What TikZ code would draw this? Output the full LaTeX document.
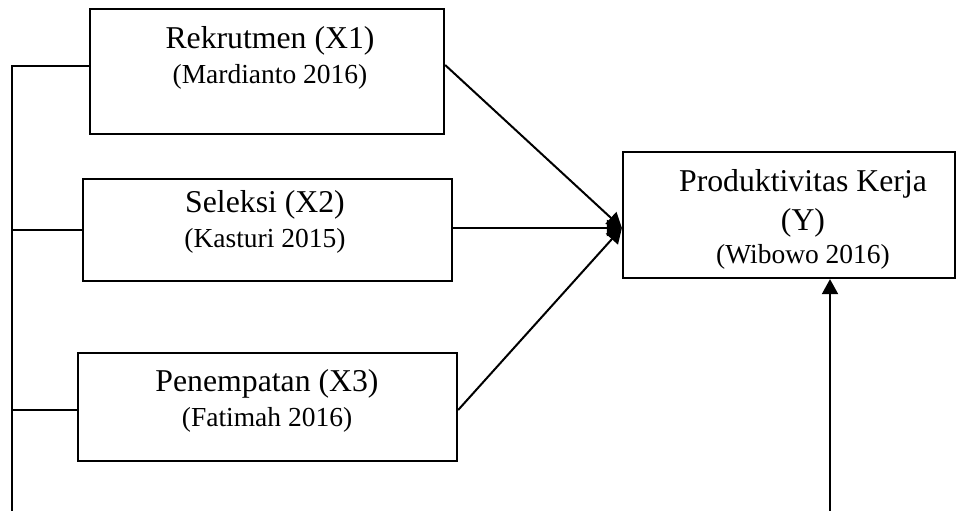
\documentclass[tikz,border=0pt]{standalone}
\usepackage{fontspec}
\setmainfont{Liberation Serif}
\usepackage{tikz}
\usetikzlibrary{arrows.meta, positioning, calc}
\newcommand{\reffont}{\fontsize{11}{14}\selectfont}

\begin{document}
\begin{tikzpicture}[
x=0.4pt, y=-0.4pt,
line width=0.8pt,
block/.style={rectangle, draw, line width=0.9pt},
txt/.style={align=center, font=\fontsize{12.7}{14}\selectfont},
arrow/.style={-{Triangle[length=6pt, width=6.4pt]}}
]
\useasboundingbox (0,0) rectangle (972,511);

% boxes
\node[block, minimum width=141.6pt, minimum height=50pt] (x1) at (267,71.5) {};
\node[block, minimum width=147.6pt, minimum height=40.8pt] (x2) at (267.5,230) {};
\node[block, minimum width=151.6pt, minimum height=43.2pt] (x3) at (267.5,407) {};
\node[block, minimum width=132.8pt, minimum height=50.4pt] (y) at (789,215) {};

% texts
\node[txt] (x1txt) at (270,57.5) {Rekrutmen (X1)\\ {\reffont (Mardianto 2016)}};
\node[txt] (x2txt) at (265,221.5) {Seleksi (X2)\\ {\reffont (Kasturi 2015)}};
\node[txt] (x3txt) at (267,401) {Penempatan (X3)\\ {\reffont (Fatimah 2016)}};
\node[txt] (ytxt) at (803,219) {Produktivitas Kerja\\[1.6pt] (Y)\\[-0.8pt] {\reffont (Wibowo 2016)}};

\coordinate (hub) at ([yshift=-5.2pt]y.west);
\coordinate (lb) at (12,511);
\coordinate (yb) at (830,511);

% left bus
\draw ([yshift=2.2pt]x1.west) -| (lb);
\draw (x2.west) -- (x2.west -| lb);
\draw ([yshift=-1.2pt]x3.west) -- ([yshift=-1.2pt]x3.west -| lb);

% arrows to Y
\draw[arrow] ([yshift=2.6pt]x1.east) -- (hub);
\draw[arrow] (x2.east |- hub) -- (hub);
\draw[arrow] ([yshift=-1.2pt]x3.east) -- (hub);
\draw[arrow] (yb) -- (yb |- y.south);

\end{tikzpicture}
\end{document}
